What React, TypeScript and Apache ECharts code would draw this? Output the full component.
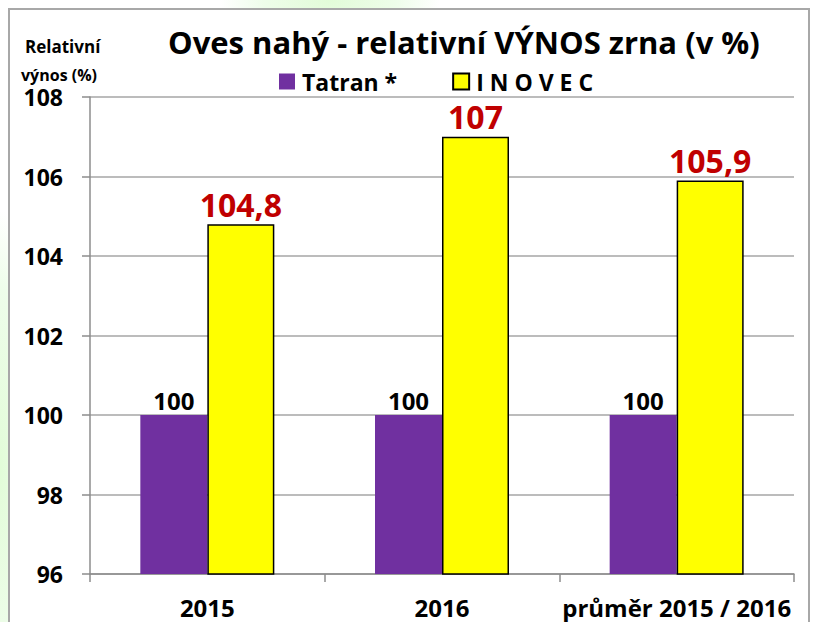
import React, { useEffect, useRef } from "react";
import * as echarts from "echarts";

const categories = ["2015", "2016", "průměr 2015 / 2016"];
const tatranValues = [100, 100, 100];
const inovecValues = [104.8, 107, 105.9];
const seriesNames = ["Tatran *", "I N O V E C"];
const yMin = 96;
const yMax = 108;
const yStep = 2;
const titleText = "Oves nahý - relativní VÝNOS zrna (v %)";
const yAxisTitleLines = ["Relativní", "výnos (%)"];

const FONT = "'Open Sans', 'Noto Sans', sans-serif";

export default function App() {
  const ref = useRef<HTMLDivElement>(null);
  useEffect(() => {
    if (!ref.current) return;
    const chart = echarts.init(ref.current, undefined, { renderer: "svg" });
    const fmt = (p: any) => String(p.value).replace(".", ",");
    chart.setOption({
      animation: false,
      backgroundColor: "transparent",
      textStyle: { fontFamily: FONT, fontWeight: 700 },
      title: {
        text: titleText,
        left: 163,
        top: 21,
        textStyle: { fontFamily: FONT, fontSize: 31, fontWeight: 700, color: "#000" },
      },
      graphic: [
        {
          type: "text",
          left: 25,
          top: 38,
          style: { text: yAxisTitleLines[0], fontFamily: FONT, fontSize: 17, fontWeight: 700, fill: "#000" },
        },
        {
          type: "text",
          left: 21,
          top: 67,
          style: { text: yAxisTitleLines[1], fontFamily: FONT, fontSize: 16, fontWeight: 700, fill: "#000" },
        },
      ],
      legend: {
        left: 274,
        top: 65,
        itemWidth: 16,
        itemHeight: 16,
        itemGap: 55,
        data: [
          { name: seriesNames[0], icon: "rect" },
          { name: seriesNames[1], icon: "rect" },
        ],
        textStyle: { fontFamily: FONT, fontSize: 23, fontWeight: 700, color: "#000", padding: [0, 0, 0, 2] },
      },
      grid: { left: 90, right: 19, top: 97, bottom: 48 },
      xAxis: {
        type: "category",
        data: categories,
        axisLine: { lineStyle: { color: "#8c8c8c", width: 1.5 } },
        axisTick: { show: true, length: 8, interval: 0, lineStyle: { color: "#8c8c8c", width: 1.5 } },
        axisLabel: {
          fontFamily: FONT,
          fontSize: 24,
          fontWeight: 700,
          color: "#000",
          margin: 21,
          interval: 0,
        },
      },
      yAxis: {
        type: "value",
        min: yMin,
        max: yMax,
        interval: yStep,
        axisLine: { show: true, lineStyle: { color: "#8c8c8c", width: 1.5 } },
        axisTick: { show: true, length: 8, lineStyle: { color: "#8c8c8c", width: 1.5 } },
        splitLine: { lineStyle: { color: "#a6a6a6", width: 1.5 } },
        axisLabel: {
          fontFamily: FONT,
          fontSize: 23,
          fontWeight: 700,
          color: "#000",
          margin: 27,
        },
      },
      series: [
        {
          name: seriesNames[0],
          type: "bar",
          data: tatranValues,
          barWidth: 67,
          barGap: "0%",
          itemStyle: { color: "#7030A0" },
          label: {
            show: true,
            position: "top",
            distance: 3,
            formatter: fmt,
            fontFamily: FONT,
            fontSize: 24,
            fontWeight: 700,
            color: "#000",
            backgroundColor: "#fff",
          },
        },
        {
          name: seriesNames[1],
          type: "bar",
          data: inovecValues,
          barWidth: 67,
          itemStyle: { color: "#FFFF00", borderColor: "#000", borderWidth: 1.5 },
          label: {
            show: true,
            position: "top",
            distance: 4,
            formatter: fmt,
            fontFamily: FONT,
            fontSize: 32,
            fontWeight: 700,
            color: "#C00000",
          },
        },
      ],
    });
    return () => chart.dispose();
  }, []);

  return (
    <div
      style={{
        position: "fixed",
        left: 0,
        top: 0,
        width: 813,
        height: 622,
        overflow: "hidden",
        background:
          "radial-gradient(ellipse 110px 60px at 330px 0px, #e2fcd8 0%, #eefdea 60%, rgba(255,255,255,0) 100%), radial-gradient(ellipse 40px 260px at 0px 470px, #e2fcd8 0%, #eefdea 70%, rgba(255,255,255,0) 100%), #ffffff",
      }}
    >
      <div
        style={{
          position: "absolute",
          left: 8,
          top: 8,
          width: 802,
          height: 640,
          boxSizing: "border-box",
          border: "2px solid #a8a8a8",
          background: "#ffffff",
        }}
      />
      <div ref={ref} style={{ position: "absolute", left: 0, top: 0, width: 813, height: 622 }} />
    </div>
  );
}
